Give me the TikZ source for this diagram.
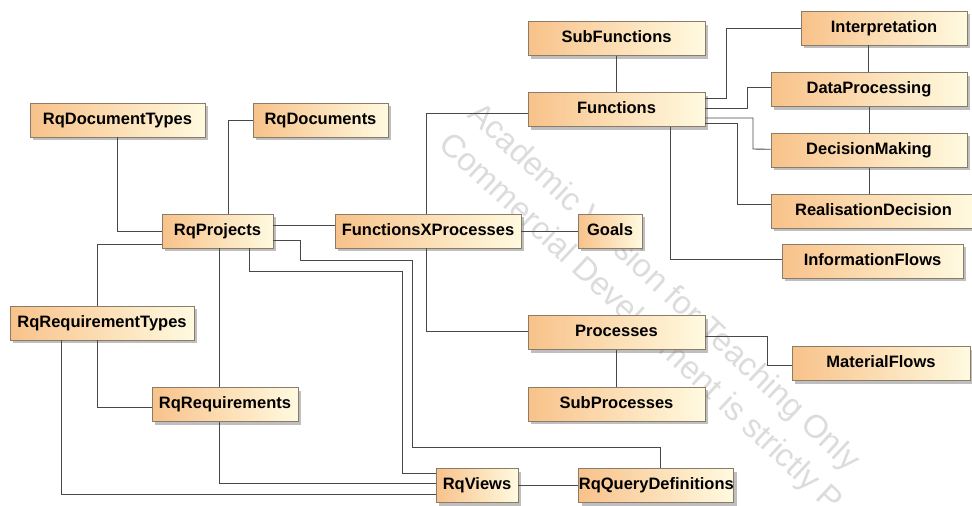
\documentclass[tikz,border=0pt]{standalone}
\usepackage{fontspec}
\setmainfont{Liberation Sans}
\usepackage{xcolor}
\usepackage{tikz}
\usetikzlibrary{positioning,shadows}

\definecolor{boxorange}{RGB}{248,194,138}
\definecolor{boxcream}{RGB}{255,250,224}
\definecolor{boxedge}{RGB}{138,124,104}
\definecolor{linkgray}{RGB}{72,72,72}
\definecolor{stampgray}{RGB}{220,220,220}

\begin{document}
\begin{tikzpicture}[
  x=1pt, y=-1pt,
  entity/.style={rectangle, draw=boxedge, line width=0.8pt, left color=boxorange, right color=boxcream, minimum height=34pt, inner sep=0pt, text height=12pt, text depth=3.5pt, font=\bfseries\fontsize{16.5}{18}\selectfont, drop shadow={shadow xshift=3pt, shadow yshift=-3pt, fill=black!55, opacity=0.45}},
  link/.style={draw=linkgray, line width=0.9pt},
  stamp/.style={text=stampgray, font=\fontsize{32.5}{35}\selectfont, rotate=-43, anchor=base west, inner sep=0pt}
]
\useasboundingbox (0,0) rectangle (972,506);
\fill[white] (0,0) rectangle (972,506);

% watermark
\node[stamp] (stampA) at (466,116) {Academic Version for Teaching Only};
\node[stamp] (stampB) at (437,146) {Commercial Development is strictly P};

% requirement side
\node[entity, minimum width=175pt] (doctypes) at (117.5,120) {RqDocumentTypes};
\node[entity, minimum width=135pt] (documents) at (320.5,120) {RqDocuments};
\node[entity, minimum width=111pt] (projects) at (217.5,231) {RqProjects};
\node[entity, minimum width=184pt] (reqtypes) at (102,323) {RqRequirementTypes};
\node[entity, minimum width=146pt] (requirements) at (225,404.5) {RqRequirements};
\node[entity, minimum width=82pt] (views) at (477,485.5) {RqViews};
\node[entity, minimum width=155pt, right=60pt of views] (querydefs) {RqQueryDefinitions};

% function / process side
\node[entity, minimum width=186pt] (fxp) at (428,231) {FunctionsXProcesses};
\node[entity, minimum width=64pt] (goals) at (610,231) {Goals};
\node[entity, minimum width=177pt] (functions) at (616.5,109.5) {Functions};
\node[entity, minimum width=177pt, above=36pt of functions] (subfunctions) {SubFunctions};
\node[entity, minimum width=177pt] (processes) at (616.5,332.5) {Processes};
\node[entity, minimum width=177pt, below=37pt of processes] (subprocesses) {SubProcesses};
\node[entity, minimum width=166pt] (interpretation) at (884,28) {Interpretation};
\node[entity, minimum width=196pt] (dataprocessing) at (869,89.5) {DataProcessing};
\node[entity, minimum width=196pt, below=26pt of dataprocessing] (decisionmaking) {DecisionMaking};
\node[entity, minimum width=205pt] (realisation) at (873.5,211) {RealisationDecision};
\node[entity, minimum width=181pt] (infoflows) at (872.5,261) {InformationFlows};
\node[entity, minimum width=178pt] (materialflows) at (881,363.5) {MaterialFlows};

% links
\draw[link] (doctypes.south) |- (projects.west);
\draw[link] (documents.west) -| ([xshift=11pt]projects.north);
\draw[link] ([yshift=6pt]projects.east) -- ([yshift=6pt]fxp.west);
\draw[link] ([yshift=-13pt]projects.west) -| ([xshift=-5pt]reqtypes.north);
\draw[link] ([xshift=1.5pt]projects.south) -- ([xshift=1.5pt]projects.south |- requirements.north);
\draw[link] ([xshift=31.5pt]projects.south) |- (402,271) |- ([yshift=12.5pt]views.west);
\draw[link] ([yshift=-9pt]projects.east) -| (300,260) -| (412,447) -| ([xshift=4.5pt]querydefs.north);
\draw[link] ([xshift=-5pt]reqtypes.south) |- ([yshift=-2.5pt]requirements.west);
\draw[link] ([xshift=-41pt]reqtypes.south) |- ([yshift=-8.5pt]views.west);
\draw[link] ([xshift=-6pt]requirements.south) |- ([yshift=2.5pt]views.west);
\draw[link] (views) -- (querydefs);

\draw[link] (fxp) -- (goals);
\draw[link] ([xshift=-2pt]fxp.north) |- ([yshift=-3.5pt]functions.west);
\draw[link] ([xshift=-2pt]fxp.south) |- ([yshift=1.5pt]processes.west);
\draw[link] (subfunctions) -- (functions);
\draw[link] (processes) -- (subprocesses);
\draw[link] ([yshift=-3.5pt]processes.east) -| (767,365) -- ([yshift=-1.5pt]materialflows.west);

\draw[link] ([yshift=11.5pt]functions.east) -| (726,28) -- (interpretation.west);
\draw[link] ([yshift=1.5pt]functions.east) -| (747,87) -- ([yshift=2.5pt]dataprocessing.west);
\draw[link] ([yshift=-8.5pt]functions.east) -| (753,149) -- ([yshift=1pt]decisionmaking.west);
\draw[link] ([yshift=-13.5pt]functions.east) -| (737,204) -- ([yshift=7pt]realisation.west);
\draw[link] ([xshift=53.5pt]functions.south) |- ([yshift=2pt]infoflows.west);
\draw[link] ([xshift=-16pt]interpretation.south) -- ([xshift=-16pt]interpretation.south |- dataprocessing.north);
\draw[link] (dataprocessing) -- (decisionmaking);
\draw[link] (decisionmaking.south) -- (decisionmaking.south |- realisation.north);
\end{tikzpicture}
\end{document}
